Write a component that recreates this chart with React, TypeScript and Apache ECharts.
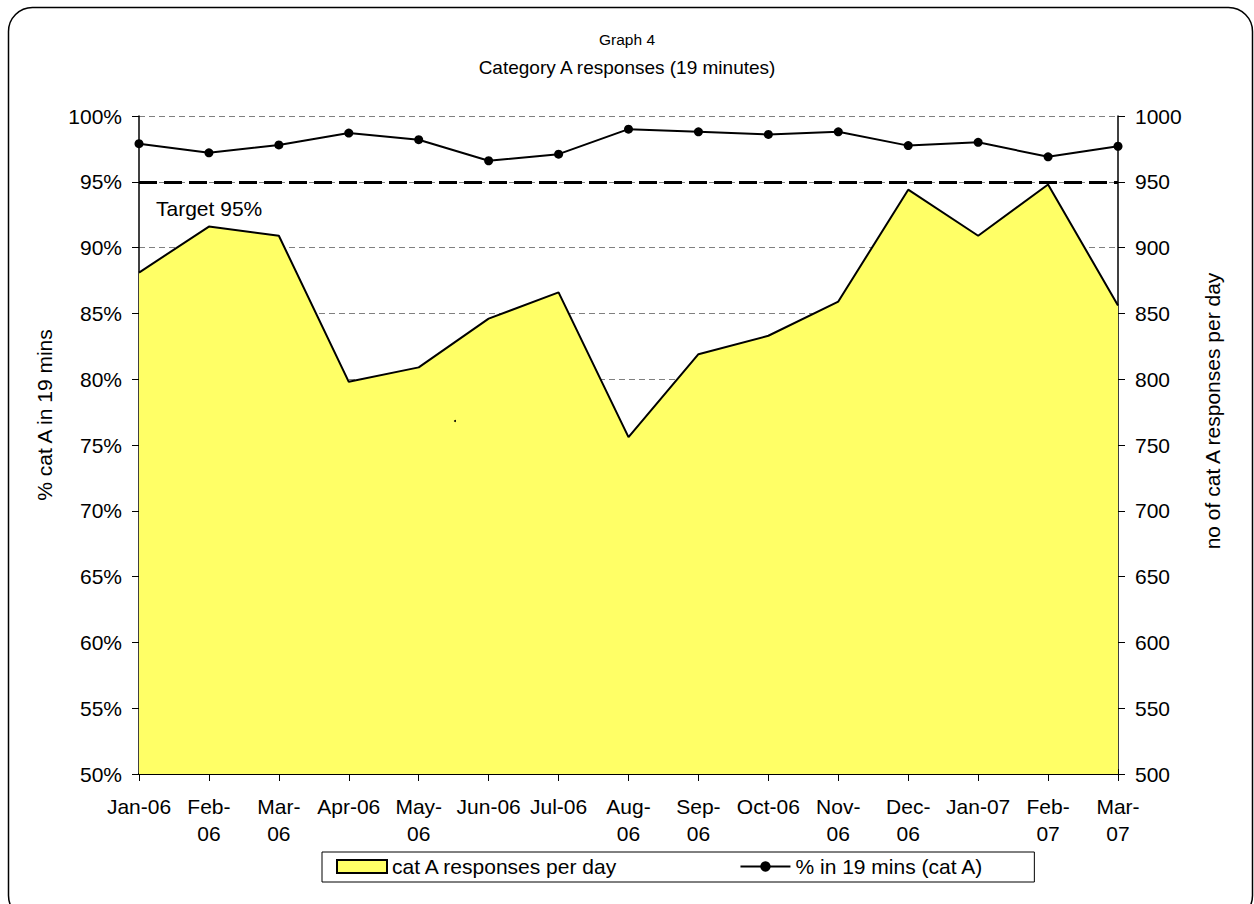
import React, { useEffect, useRef } from "react";
import * as echarts from "echarts";

const categories = [
  "Jan-06", "Feb-06", "Mar-06", "Apr-06", "May-06", "Jun-06", "Jul-06", "Aug-06",
  "Sep-06", "Oct-06", "Nov-06", "Dec-06", "Jan-07", "Feb-07", "Mar-07",
];
const tickLabels = [
  "Jan-06", "Feb-\n06", "Mar-\n06", "Apr-06", "May-\n06", "Jun-06", "Jul-06", "Aug-\n06",
  "Sep-\n06", "Oct-06", "Nov-\n06", "Dec-\n06", "Jan-07", "Feb-\n07", "Mar-\n07",
];
const responsesPerDay = [881, 916, 909, 798, 809, 846, 866, 756, 819, 833, 859, 944, 909, 948, 856];
const pctIn19Mins = [97.9, 97.2, 97.8, 98.7, 98.2, 96.6, 97.1, 99.0, 98.8, 98.6, 98.8, 97.75, 98.0, 96.9, 97.7];
const targetPct = 95;
const pctAxisRange = [50, 100, 5];
const countAxisRange = [500, 1000, 50];

const FONT = "'Liberation Sans', Arial, sans-serif";

export default function App() {
  const ref = useRef<HTMLDivElement>(null);
  useEffect(() => {
    if (!ref.current) return;
    const chart = echarts.init(ref.current, null, { renderer: "svg" });
    const labelMap: Record<string, string> = {};
    categories.forEach((c, i) => (labelMap[c] = tickLabels[i]));
    chart.setOption({
      animation: false,
      backgroundColor: "#ffffff",
      textStyle: { fontFamily: FONT, color: "#000" },
      title: [
        {
          text: "Graph 4",
          left: "center",
          top: 31,
          padding: 0,
          textStyle: { fontFamily: FONT, fontSize: 15.5, fontWeight: "normal", color: "#000" },
        },
        {
          text: "Category A responses (19 minutes)",
          left: "center",
          top: 58,
          padding: 0,
          textStyle: { fontFamily: FONT, fontSize: 19, fontWeight: "normal", color: "#000" },
        },
      ],
      grid: { left: 139, right: 136, top: 116, bottom: 130, containLabel: false },
      legend: {
        left: 322,
        top: 852,
        orient: "horizontal",
        padding: [4, 51, 5, 14],
        itemGap: 121,
        itemWidth: 50,
        itemHeight: 13,
        borderColor: "#000",
        borderWidth: 1,
        textStyle: { fontFamily: FONT, fontSize: 21, color: "#000", lineHeight: 21 },
        data: [
          {
            name: "cat A responses per day",
            icon: "rect",
            itemStyle: { color: "#FFFF66", borderColor: "#000", borderWidth: 2 },
          },
          { name: "% in 19 mins (cat A)" },
        ],
      },
      xAxis: [
        {
          type: "category",
          data: categories,
          boundaryGap: false,
          axisLine: { show: true, lineStyle: { color: "#000", width: 2 } },
          axisTick: { show: true, inside: false, length: 7, lineStyle: { color: "#000" } },
          axisLabel: {
            interval: 0,
            margin: 19,
            fontFamily: FONT,
            fontSize: 21,
            lineHeight: 27,
            color: "#000",
            formatter: (v: string) => labelMap[v] ?? v,
          },
          splitLine: { show: false },
        },
        {
          type: "category",
          data: categories,
          boundaryGap: false,
          position: "bottom",
          axisLine: { show: false },
          axisTick: { show: true, inside: true, length: 5, lineStyle: { color: "#000" } },
          axisLabel: { show: false },
          splitLine: { show: false },
        },
      ],
      yAxis: [
        {
          type: "value",
          min: pctAxisRange[0],
          max: pctAxisRange[1],
          interval: pctAxisRange[2],
          position: "left",
          axisLine: { show: true, lineStyle: { color: "#000", width: 1.5 } },
          axisTick: { show: true, inside: false, length: 7, lineStyle: { color: "#000" } },
          axisLabel: {
            margin: 17,
            fontFamily: FONT,
            fontSize: 21,
            color: "#000",
            formatter: "{value}%",
          },
          splitLine: {
            show: true,
            lineStyle: { color: "#808080", width: 1, type: [6, 4] },
          },
        },
        {
          type: "value",
          min: countAxisRange[0],
          max: countAxisRange[1],
          interval: countAxisRange[2],
          position: "right",
          axisLine: { show: true, lineStyle: { color: "#000", width: 1.5 } },
          axisTick: { show: true, inside: false, length: 7, lineStyle: { color: "#000" } },
          axisLabel: {
            margin: 17,
            fontFamily: FONT,
            fontSize: 21,
            color: "#000",
            formatter: (v: number) => String(v),
          },
          splitLine: { show: false },
        },
      ],
      graphic: [
        {
          type: "rect",
          silent: true,
          shape: { x: 8.5, y: 7.5, width: 1244, height: 912, r: 24 },
          style: { fill: "none", stroke: "#000", lineWidth: 1.5 },
          z: 100,
        },
        {
          type: "circle",
          silent: true,
          shape: { cx: 455, cy: 421, r: 1 },
          style: { fill: "#000" },
          z: 50,
        },
        {
          type: "text",
          x: 44,
          y: 415,
          rotation: Math.PI / 2,
          style: {
            text: "% cat A in 19 mins",
            fontFamily: FONT,
            fontSize: 21,
            fill: "#000",
            textAlign: "center",
            textVerticalAlign: "middle",
          },
        },
        {
          type: "text",
          x: 1212,
          y: 411,
          rotation: Math.PI / 2,
          style: {
            text: "no of cat A responses per day",
            fontFamily: FONT,
            fontSize: 21,
            fill: "#000",
            textAlign: "center",
            textVerticalAlign: "middle",
          },
        },
        {
          type: "text",
          x: 156,
          y: 208,
          z: 50,
          style: {
            text: "Target 95%",
            fontFamily: FONT,
            fontSize: 21,
            fill: "#000",
            textAlign: "left",
            textVerticalAlign: "middle",
          },
        },
      ],
      series: [
        {
          name: "cat A responses per day",
          type: "line",
          xAxisIndex: 0,
          yAxisIndex: 1,
          data: responsesPerDay,
          symbol: "none",
          lineStyle: { color: "#000", width: 2 },
          itemStyle: { color: "#FFFF66", borderColor: "#000" },
          areaStyle: { color: "#FFFF66", opacity: 1, origin: "start" },
          z: 2,
        },
        {
          name: "% in 19 mins (cat A)",
          type: "line",
          xAxisIndex: 0,
          yAxisIndex: 0,
          data: pctIn19Mins,
          symbol: "circle",
          symbolSize: 9,
          lineStyle: { color: "#000", width: 2 },
          itemStyle: { color: "#000" },
          z: 4,
          markLine: {
            silent: true,
            symbol: "none",
            label: { show: false },
            lineStyle: { color: "#000", width: 3, type: [18, 7] },
            data: [{ yAxis: targetPct }],
            z: 3,
          },
        },
      ],
    });
    return () => chart.dispose();
  }, []);
  return (
    <div
      ref={ref}
      style={{ position: "fixed", left: 0, top: 0, width: 1254, height: 904, background: "#fff" }}
    />
  );
}
